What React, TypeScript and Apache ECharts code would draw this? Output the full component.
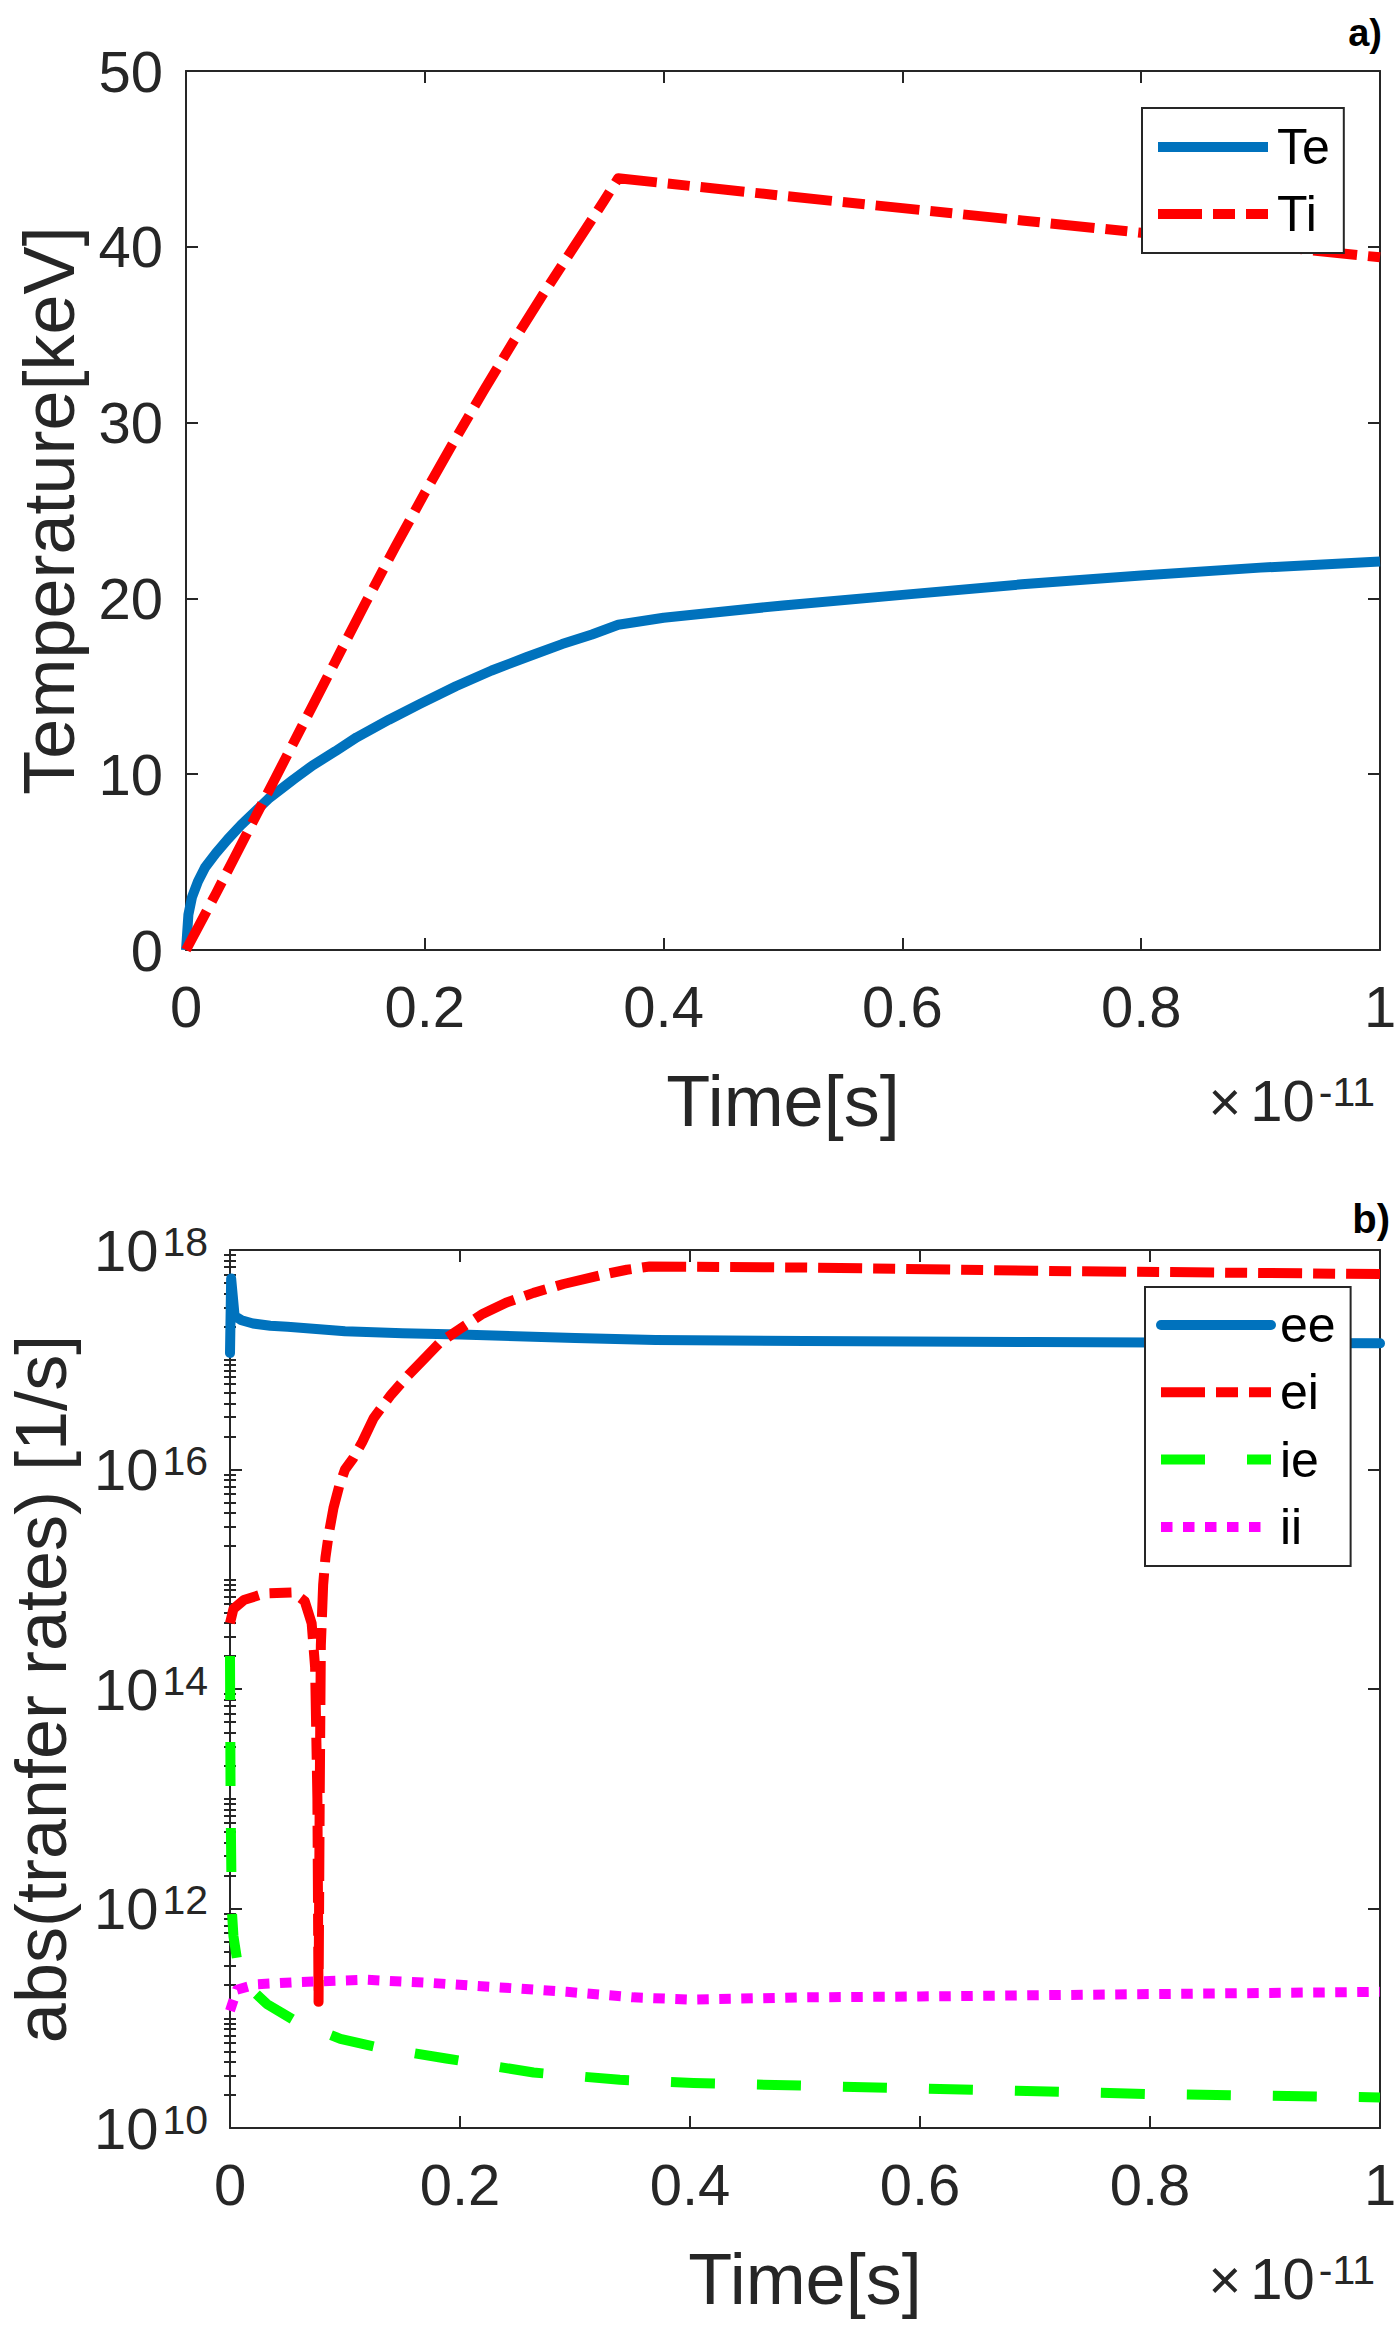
import React, { useEffect, useRef } from 'react';
import * as echarts from 'echarts';

// ---------- Panel a) : temperatures (time in units of 1e-11 s, temperature in keV) ----------
const timeTe = [0, 0.002, 0.005, 0.01, 0.016, 0.025, 0.035, 0.046, 0.069, 0.09, 0.106, 0.125, 0.143, 0.17, 0.196, 0.226, 0.256, 0.285, 0.315, 0.34, 0.362, 0.4, 0.5, 0.6, 0.7, 0.8, 0.9, 1];
const tempTe = [0, 2.0, 3.0, 3.9, 4.7, 5.5, 6.3, 7.1, 8.6, 9.7, 10.5, 11.3, 12.1, 13.1, 14.0, 15.0, 15.9, 16.65, 17.4, 17.95, 18.5, 18.9, 19.6, 20.2, 20.8, 21.3, 21.75, 22.1];
const timeTi = [0, 0.025, 0.05, 0.075, 0.1, 0.125, 0.15, 0.175, 0.2, 0.225, 0.25, 0.275, 0.3, 0.325, 0.35, 0.362, 0.5, 0.6, 0.7, 0.8, 0.9, 1];
const tempTi = [0, 3.2, 6.5, 9.8, 13.1, 16.4, 19.7, 22.9, 26.0, 29.0, 31.9, 34.7, 37.4, 40.0, 42.6, 43.9, 42.9, 42.2, 41.5, 40.8, 40.1, 39.4];

// ---------- Panel b) : abs(transfer rates) [1/s] ----------
const timeEe = [0, 0.001, 0.004, 0.01, 0.02, 0.035, 0.05, 0.075, 0.1, 0.15, 0.2, 0.3, 0.37, 0.5, 0.7, 1];
const rateEe = [1.15e17, 5.5e17, 2.51e17, 2.29e17, 2.14e17, 2.04e17, 2.0e17, 1.91e17, 1.82e17, 1.74e17, 1.7e17, 1.58e17, 1.51e17, 1.48e17, 1.45e17, 1.41e17];
const timeEi = [0, 0.003, 0.012, 0.03, 0.055, 0.065, 0.071, 0.074, 0.076, 0.077, 0.078, 0.079, 0.081, 0.083, 0.086, 0.09, 0.095, 0.1, 0.107, 0.115, 0.125, 0.14, 0.155, 0.17, 0.183, 0.2, 0.22, 0.24, 0.264, 0.29, 0.322, 0.345, 0.365, 0.5, 0.7, 1];
const rateEi = [3.98e14, 5.37e14, 6.46e14, 7.41e14, 7.59e14, 6.31e14, 3.98e14, 1.58e14, 1.0e13, 1.41e11, 1.0e13, 2.51e14, 8.91e14, 1.58e15, 2.63e15, 4.47e15, 7.08e15, 1.0e16, 1.26e16, 1.78e16, 2.95e16, 4.79e16, 7.24e16, 1.05e17, 1.45e17, 1.91e17, 2.63e17, 3.31e17, 4.07e17, 4.9e17, 5.89e17, 6.61e17, 7.08e17, 6.92e17, 6.46e17, 6.03e17];
const timeIe = [0, 0.0005, 0.0015, 0.003, 0.006, 0.017, 0.032, 0.058, 0.096, 0.13, 0.188, 0.264, 0.339, 0.403, 0.6, 0.8, 1];
const rateIe = [2.0e14, 1.0e13, 1.0e12, 5.6e11, 3.5e11, 1.9e11, 1.35e11, 9.3e10, 6.5e10, 5.4e10, 4.3e10, 3.2e10, 2.75e10, 2.57e10, 2.29e10, 2.04e10, 1.9e10];
const timeIi = [0, 0.006, 0.023, 0.061, 0.119, 0.177, 0.235, 0.293, 0.351, 0.4, 0.5, 0.6, 0.8, 1];
const rateIi = [1.17e11, 1.82e11, 2.04e11, 2.14e11, 2.24e11, 2.09e11, 1.91e11, 1.74e11, 1.55e11, 1.48e11, 1.55e11, 1.58e11, 1.66e11, 1.74e11];

// ---------- Axis ticks ----------
const xTicks = { min: 0, max: 1, interval: 0.2 };
const tempTicks = { min: 0, max: 50, interval: 10 };
const rateMin = 1e10;
const rateMax = 1.000001e18;
const rateMajorTicks = [1e10, 1e12, 1e14, 1e16, 1e18];
const rateMinorTicks: number[] = [];
for (let k = 10; k < 18; k++) {
  for (let m = 1; m <= 9; m++) {
    if (m === 1 && k % 2 === 0) continue;
    rateMinorTicks.push(m * Math.pow(10, k));
  }
}

const FONT = "'Liberation Sans', Arial, Helvetica, sans-serif";
const AX = '#262626';
const BLUE = '#0072BD';
const RED = '#FF0000';
const GREEN = '#00FF00';
const MAGENTA = '#FF00FF';
const LW = 10;
const DASHDOT = [44, 11, 22, 11];
const DASHED = [44, 42];
const DOTTED = [11.5, 10.5];

const zip = (xs: number[], ys: number[]) => xs.map((x, i) => [x, ys[i]]);

const supRich = {
  b: { fontSize: 58, fontFamily: FONT, color: AX, lineHeight: 58, verticalAlign: 'bottom', padding: [17, 0, 0, 0] },
  s: { fontSize: 41, fontFamily: FONT, color: AX, lineHeight: 44, verticalAlign: 'top', padding: [0, 0, 0, 4] },
  x: { fontSize: 56, fontFamily: FONT, color: AX, lineHeight: 58, verticalAlign: 'bottom', padding: [17, 9, 0, 0] },
};

const axisLine = { show: true, onZero: false, lineStyle: { color: AX, width: 2 } };
const majorTick = { show: true, inside: true, length: 12, lineStyle: { color: AX, width: 2 } };
const tickLabel = { fontSize: 58, color: AX, fontFamily: FONT };

function xAxisPair(gridIndex: number) {
  return [
    {
      gridIndex, type: 'value', position: 'bottom', ...xTicks,
      axisLine, axisTick: majorTick, splitLine: { show: false },
      axisLabel: { ...tickLabel, margin: 27 },
      name: 'Time[s]', nameLocation: 'middle', nameGap: 115,
      nameTextStyle: { fontSize: 72, color: AX, fontFamily: FONT },
    },
    {
      gridIndex, type: 'value', position: 'top', ...xTicks,
      axisLine, axisTick: majorTick, splitLine: { show: false }, axisLabel: { show: false },
    },
  ];
}

const option: any = {
  animation: false,
  backgroundColor: '#ffffff',
  textStyle: { fontFamily: FONT },
  grid: [
    { left: 186, top: 71, width: 1194, height: 879, containLabel: false, outerBoundsMode: 'none' },
    { left: 230, top: 1250, width: 1150, height: 878, containLabel: false, outerBoundsMode: 'none' },
  ],
  xAxis: [...xAxisPair(0), ...xAxisPair(1)],
  yAxis: [
    {
      gridIndex: 0, type: 'value', position: 'left', ...tempTicks,
      axisLine, axisTick: majorTick, splitLine: { show: false },
      axisLabel: { ...tickLabel, margin: 23 },
      name: 'Temperature[keV]', nameLocation: 'middle', nameGap: 101,
      nameTextStyle: { fontSize: 72, color: AX, fontFamily: FONT },
    },
    {
      gridIndex: 0, type: 'value', position: 'right', ...tempTicks,
      axisLine, axisTick: majorTick, splitLine: { show: false }, axisLabel: { show: false },
    },
    {
      gridIndex: 1, type: 'log', logBase: 10, position: 'left', min: rateMin, max: rateMax,
      axisLine, splitLine: { show: false },
      axisTick: { ...majorTick, customValues: rateMajorTicks },
      axisLabel: {
        ...tickLabel,
        margin: 22, customValues: rateMajorTicks,
        formatter: (v: number) => `{b|10}{s|${Math.round(Math.log10(v))}}`,
        rich: supRich,
      },
      name: 'abs(tranfer rates) [1/s]', nameLocation: 'middle', nameGap: 153,
      nameTextStyle: { fontSize: 72, color: AX, fontFamily: FONT },
    },
    {
      gridIndex: 1, type: 'log', logBase: 10, position: 'left', min: rateMin, max: rateMax,
      axisLine: { show: false }, splitLine: { show: false }, axisLabel: { show: false },
      axisTick: { show: true, inside: true, length: 6, lineStyle: { color: AX, width: 2 }, customValues: rateMinorTicks },
    },
    {
      gridIndex: 1, type: 'log', logBase: 10, position: 'right', min: rateMin, max: rateMax,
      axisLine, splitLine: { show: false }, axisLabel: { show: false },
      axisTick: { ...majorTick, customValues: rateMajorTicks },
    },
    {
      gridIndex: 1, type: 'log', logBase: 10, position: 'right', min: rateMin, max: rateMax,
      axisLine: { show: false }, splitLine: { show: false }, axisLabel: { show: false },
      axisTick: { show: true, inside: true, length: 6, lineStyle: { color: AX, width: 2 }, customValues: rateMinorTicks },
    },
  ],
  legend: [
    {
      data: ['Te', 'Ti'], orient: 'vertical', left: 1142, top: 108,
      padding: [14, 14, 14, 11], itemWidth: 110, itemHeight: 12, itemGap: 17,
      backgroundColor: '#fff', borderColor: AX, borderWidth: 2, borderRadius: 0,
      selectedMode: false,
      itemStyle: { opacity: 0 },
      lineStyle: { width: LW },
      textStyle: { fontSize: 50, color: '#000', fontFamily: FONT, lineHeight: 50, padding: [0, 0, 0, 4] },
    },
    {
      data: ['ee', 'ei', 'ie', 'ii'], orient: 'vertical', left: 1145, top: 1287,
      padding: [13, 15, 14, 11], itemWidth: 110, itemHeight: 12, itemGap: 17.3,
      backgroundColor: '#fff', borderColor: AX, borderWidth: 2, borderRadius: 0,
      selectedMode: false,
      itemStyle: { opacity: 0 },
      lineStyle: { width: LW },
      textStyle: { fontSize: 50, color: '#000', fontFamily: FONT, lineHeight: 50, padding: [0, 0, 0, 4] },
    },
  ],
  graphic: [
    { type: 'text', right: 18, top: 14, style: { text: 'a)', fontSize: 38, fontWeight: 'bold', fontFamily: FONT, fill: '#000' } },
    { type: 'text', right: 10, top: 1199, style: { text: 'b)', fontSize: 40, fontWeight: 'bold', fontFamily: FONT, fill: '#000' } },
    { type: 'text', x: 1375, y: 1071, style: { text: '{x|×}{b|10}{s|-11}', fontSize: 58, fontFamily: FONT, fill: AX, rich: supRich, align: 'right', verticalAlign: 'top' } },
    { type: 'text', x: 1375, y: 2249, style: { text: '{x|×}{b|10}{s|-11}', fontSize: 58, fontFamily: FONT, fill: AX, rich: supRich, align: 'right', verticalAlign: 'top' } },
  ],
  series: [
    { name: 'Te', type: 'line', xAxisIndex: 0, yAxisIndex: 0, symbol: 'none', data: zip(timeTe, tempTe),
      lineStyle: { color: BLUE, width: LW, type: 'solid', join: 'round' }, itemStyle: { color: BLUE }, z: 2 },
    { name: 'Ti', type: 'line', xAxisIndex: 0, yAxisIndex: 0, symbol: 'none', data: zip(timeTi, tempTi),
      lineStyle: { color: RED, width: LW, type: DASHDOT, join: 'round' }, itemStyle: { color: RED }, z: 3 },
    { name: 'ee', type: 'line', xAxisIndex: 2, yAxisIndex: 2, symbol: 'none', data: zip(timeEe, rateEe),
      lineStyle: { color: BLUE, width: LW, type: 'solid', join: 'round', cap: 'round' }, itemStyle: { color: BLUE }, z: 2 },
    { name: 'ei', type: 'line', xAxisIndex: 2, yAxisIndex: 2, symbol: 'none', data: zip(timeEi, rateEi),
      lineStyle: { color: RED, width: LW, type: DASHDOT, join: 'round' }, itemStyle: { color: RED }, z: 3 },
    { name: 'ie', type: 'line', xAxisIndex: 2, yAxisIndex: 2, symbol: 'none', data: zip(timeIe, rateIe),
      lineStyle: { color: GREEN, width: LW, type: DASHED, join: 'round' }, itemStyle: { color: GREEN }, z: 4 },
    { name: 'ii', type: 'line', xAxisIndex: 2, yAxisIndex: 2, symbol: 'none', data: zip(timeIi, rateIi),
      lineStyle: { color: MAGENTA, width: LW, type: DOTTED, join: 'round' }, itemStyle: { color: MAGENTA }, z: 5 },
  ],
};

export default function App() {
  const ref = useRef<HTMLDivElement>(null);
  useEffect(() => {
    if (!ref.current) return;
    const chart = echarts.init(ref.current, null, { renderer: 'svg' });
    chart.setOption(option);
    return () => chart.dispose();
  }, []);
  return <div ref={ref} style={{ position: 'absolute', left: 0, top: 0, width: 1400, height: 2327 }} />;
}
